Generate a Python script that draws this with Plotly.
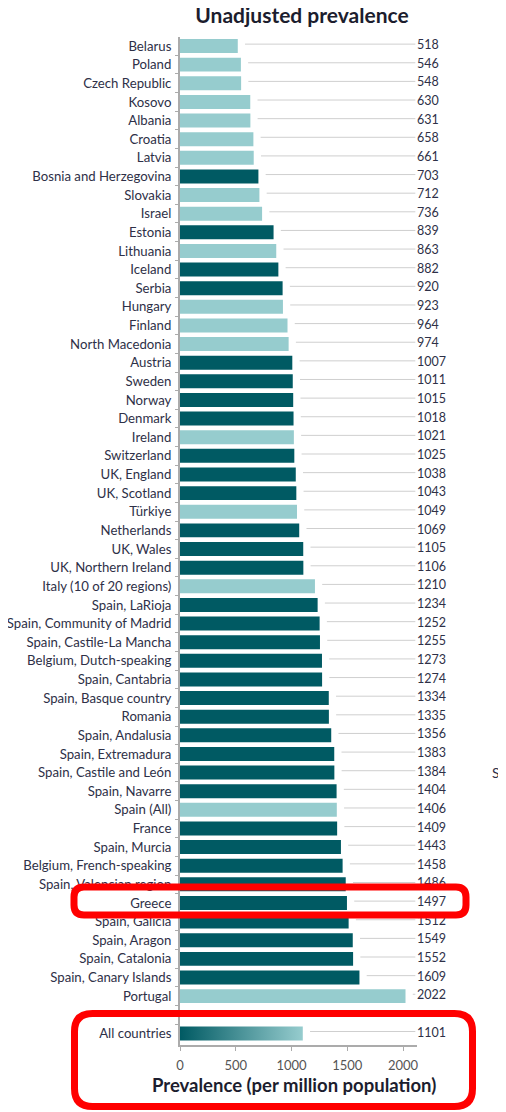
import plotly.graph_objects as go

countries = [
    "Belarus", "Poland", "Czech Republic", "Kosovo", "Albania", "Croatia", "Latvia",
    "Bosnia and Herzegovina", "Slovakia", "Israel", "Estonia", "Lithuania", "Iceland",
    "Serbia", "Hungary", "Finland", "North Macedonia", "Austria", "Sweden", "Norway",
    "Denmark", "Ireland", "Switzerland", "UK, England", "UK, Scotland", "Türkiye",
    "Netherlands", "UK, Wales", "UK, Northern Ireland", "Italy (10 of 20 regions)",
    "Spain, LaRioja", "Spain, Community of Madrid", "Spain, Castile-La Mancha",
    "Belgium, Dutch-speaking", "Spain, Cantabria", "Spain, Basque country", "Romania",
    "Spain, Andalusia", "Spain, Extremadura", "Spain, Castile and León", "Spain, Navarre",
    "Spain (All)", "France", "Spain, Murcia", "Belgium, French-speaking",
    "Spain, Valencian region", "Greece", "Spain, Galicia", "Spain, Aragon",
    "Spain, Catalonia", "Spain, Canary Islands", "Portugal",
]
values = [
    518, 546, 548, 630, 631, 658, 661, 703, 712, 736, 839, 863, 882, 920, 923, 964, 974,
    1007, 1011, 1015, 1018, 1021, 1025, 1038, 1043, 1049, 1069, 1105, 1106, 1210, 1234,
    1252, 1255, 1273, 1274, 1334, 1335, 1356, 1383, 1384, 1404, 1406, 1409, 1443, 1458,
    1486, 1497, 1512, 1549, 1552, 1609, 2022,
]
# "L" = whole country (light), "D" = region / other (dark)
groups = list("LLLLLLLDLLDLDDLLLDDDDLDDDLDDDLDDDDDDDDDDDLDDDDDDDDDL")
total_label = "All countries"
total_value = 1101

LIGHT = "#96ccce"
DARK = "#005a63"
TEXT = "#2e3047"
AXIS = "#ababab"
FONT = "Lato"

# the page body adds an 8px margin, so lay out the figure 8px smaller and shifted
OFF = 8
W, H = 506 - OFF, 1112 - OFF
# plot area in page pixels
PL, PR, PT, PB = 180, 417, 37, 1045
X_MAX = 2125


def to_paper(px, py):
    return (px - PL) / (PR - PL), (PB - py) / (PB - PT)


def rounded_box(x0, y0, x1, y1, r):
    pts = [
        ("M", [(x0 + r, y0)]), ("L", [(x1 - r, y0)]), ("Q", [(x1, y0), (x1, y0 + r)]),
        ("L", [(x1, y1 - r)]), ("Q", [(x1, y1), (x1 - r, y1)]), ("L", [(x0 + r, y1)]),
        ("Q", [(x0, y1), (x0, y1 - r)]), ("L", [(x0, y0 + r)]), ("Q", [(x0, y0), (x0 + r, y0)]),
    ]
    path = ""
    for cmd, coords in pts:
        path += cmd + " " + " ".join("%.5f,%.5f" % to_paper(*c) for c in coords) + " "
    return path + "Z"


ypos = list(range(len(countries)))
y_total = len(countries) + 1

fig = go.Figure()

# connector lines from bar end to the value label
cx, cy = [], []
for v, y in zip(values + [total_value], ypos + [y_total]):
    cx += [v + 65, 2110, None]
    cy += [y - 0.1, y - 0.1, None]
fig.add_trace(go.Scatter(
    x=cx, y=cy, mode="lines", line=dict(color="#cfcfcf", width=1),
    hoverinfo="skip", showlegend=False, cliponaxis=False,
))

fig.add_trace(go.Bar(
    x=values, y=ypos, orientation="h", width=0.75,
    marker=dict(color=[LIGHT if g == "L" else DARK for g in groups], line_width=0),
    showlegend=False,
))

# gradient bar for all countries
h = 0.375
fig.add_trace(go.Scatter(
    x=[0, total_value, total_value, 0, 0],
    y=[y_total - h, y_total - h, y_total + h, y_total + h, y_total - h],
    mode="lines", fill="toself", line=dict(width=0),
    fillgradient=dict(type="horizontal", colorscale=[[0, DARK], [1, LIGHT]]),
    showlegend=False, hoverinfo="skip",
))

# value labels
fig.add_trace(go.Scatter(
    x=[X_MAX] * (len(values) + 1), y=ypos + [y_total],
    mode="text", text=[str(v) for v in values + [total_value]],
    textposition="middle right", textfont=dict(family=FONT, size=12.5, color=TEXT),
    cliponaxis=False, showlegend=False, hoverinfo="skip",
))

row_px = 18.63
y_top = (PT - 46) / row_px
y_bot = (PB - 46) / row_px

fig.update_layout(
    width=W, height=H,
    margin=dict(l=PL - OFF, r=506 - PR, t=PT - OFF, b=1112 - PB, autoexpand=False),
    plot_bgcolor="white", paper_bgcolor="white",
    font=dict(family=FONT, color=TEXT, size=13),
    title=dict(
        text="<b>Unadjusted prevalence</b>", x=(302 - OFF) / W, xanchor="center",
        y=1, yanchor="top", xref="container", yref="container", pad=dict(t=0),
        automargin=False, font=dict(family=FONT, size=21, color="#1c1d2e"),
    ),
    xaxis=dict(
        range=[0, X_MAX], tickvals=[0, 500, 1000, 1500, 2000], showgrid=False,
        zeroline=False, showline=True, linecolor=AXIS, linewidth=2, automargin=False,
        ticks="outside", ticklen=4, tickcolor=AXIS, tickwidth=1, ticklabelstandoff=3,
        tickfont=dict(family=FONT, size=13, color="#555555"),
    ),
    yaxis=dict(
        range=[y_bot, y_top], tickmode="array", tickvals=ypos + [y_total],
        ticktext=countries + [total_label], ticks="", showgrid=False, zeroline=False,
        showline=True, linecolor=AXIS, linewidth=2, ticklabelstandoff=4, automargin=False,
        tickfont=dict(family=FONT, size=13.2, color=TEXT),
        minor=dict(
            tickmode="array", tickvals=[i - 0.5 for i in range(y_total + 1)],
            ticks="outside", ticklen=3, tickcolor=AXIS, tickwidth=1, showgrid=False,
        ),
    ),
    bargap=0.25,
)

xt, yt = to_paper(294, 1085)
xs, ys = to_paper(496, 772)
fig.add_annotation(
    x=xt, y=yt, xref="paper", yref="paper", showarrow=False,
    xanchor="center", yanchor="middle",
    text="<b>Prevalence (per million population)</b>",
    font=dict(family=FONT, size=18.5, color="#1c1d2e"),
)
fig.add_annotation(
    x=xs, y=ys, xref="paper", yref="paper", showarrow=False, text="S",
    xanchor="center", yanchor="middle",
    font=dict(family=FONT, size=14, color=TEXT),
)

for box in [(74, 887, 466, 915, 10), (74.5, 1013.5, 472.5, 1106.5, 18)]:
    fig.add_shape(
        type="path", path=rounded_box(*box), xref="paper", yref="paper",
        line=dict(color="#ff0000", width=7), layer="above",
    )

fig.write_html("out.html")
